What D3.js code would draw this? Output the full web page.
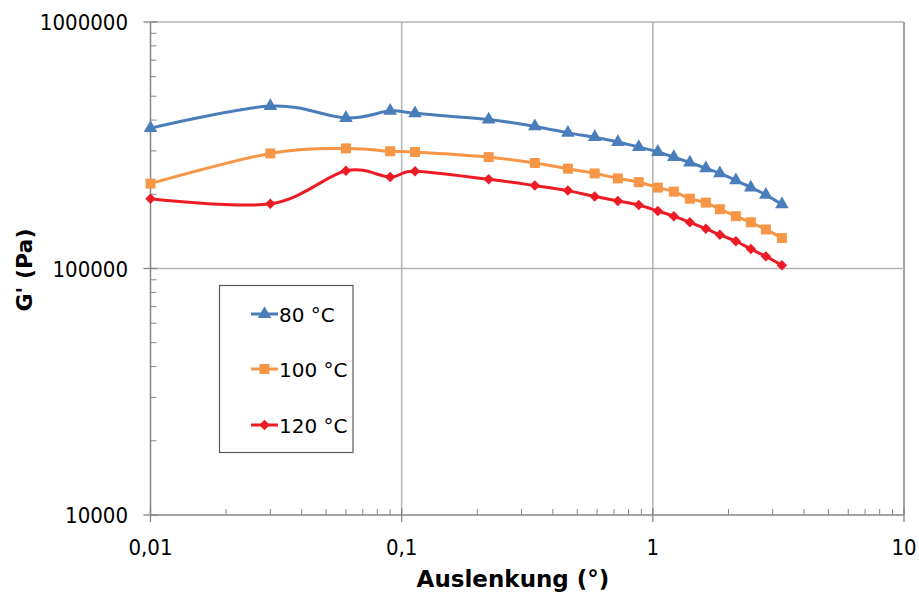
<!DOCTYPE html>
<html>
<head>
<meta charset="utf-8">
<script src="https://cdn.jsdelivr.net/npm/d3@7"></script>
<style>
  body { margin: 0; background: #fff; }
  svg { display: block; font-family: "DejaVu Sans Condensed", "DejaVu Sans", sans-serif; font-stretch: condensed; }
  .wide { font-family: "DejaVu Sans", sans-serif; font-stretch: normal; }
</style>
</head>
<body>
<svg id="chart" width="919" height="592"></svg>
<script>
// Auslenkung (°) for every measuring point
const strain = [0.01, 0.03, 0.06, 0.09, 0.113, 0.222, 0.339, 0.459, 0.587, 0.726,
  0.879, 1.047, 1.212, 1.404, 1.626, 1.849, 2.141, 2.455, 2.818, 3.265];

// G' (Pa)
const g80 = [371000, 456000, 408000, 436000, 426000, 402000, 377000, 355000, 341000, 326000,
  311000, 297000, 283000, 269000, 255000, 243000, 228000, 213000, 199000, 182000];
const g100 = [221000, 293000, 307000, 299000, 297000, 283000, 268000, 254000, 243000, 232000,
  224000, 213000, 205000, 192000, 185000, 174000, 163000, 154000, 144000, 133000];
const g120 = [192000, 183000, 249000, 235000, 248000, 230000, 217000, 207000, 196000, 188000,
  181000, 171000, 163000, 154000, 145000, 137000, 129000, 120000, 112000, 103000];

const seriesNames = ['80 °C', '100 °C', '120 °C'];
const xTicks = [0.01, 0.1, 1, 10];
const xTickLabels = ['0,01', '0,1', '1', '10'];
const yTicks = [10000, 100000, 1000000];

const series = [
  { name: seriesNames[0], values: g80, color: '#4a7ebb', marker: 'triangle' },
  { name: seriesNames[1], values: g100, color: '#f79646', marker: 'square' },
  { name: seriesNames[2], values: g120, color: '#ed1c24', marker: 'diamond' }
];

const svg = d3.select('#chart');
const x = d3.scaleLog().domain([0.01, 10]).range([150.5, 904]);
const y = d3.scaleLog().domain([10000, 1000000]).range([515, 22]);

const gridColor = '#b4b4b4';
const axisColor = '#868686';

// grid lines
svg.append('g').selectAll('line').data(xTicks.slice(1)).join('line')
  .attr('x1', d => x(d)).attr('x2', d => x(d))
  .attr('y1', y(1000000)).attr('y2', y(10000))
  .attr('stroke', d => d === 10 ? axisColor : gridColor).attr('stroke-width', 1.5);
svg.append('g').selectAll('line').data(yTicks.slice(1)).join('line')
  .attr('x1', x(0.01)).attr('x2', x(10))
  .attr('y1', d => y(d)).attr('y2', d => y(d))
  .attr('stroke', gridColor).attr('stroke-width', 1.5);

// minor ticks
const minorX = [];
[0.01, 0.1, 1].forEach(b => { for (let k = 2; k < 10; k++) minorX.push(b * k); });
const minorY = [];
[10000, 100000].forEach(b => { for (let k = 2; k < 10; k++) minorY.push(b * k); });

svg.append('g').selectAll('line').data(minorX).join('line')
  .attr('x1', d => x(d)).attr('x2', d => x(d))
  .attr('y1', y(10000)).attr('y2', y(10000) - 6)
  .attr('stroke', axisColor).attr('stroke-width', 1);
svg.append('g').selectAll('line').data(minorY).join('line')
  .attr('x1', x(0.01)).attr('x2', x(0.01) + 6)
  .attr('y1', d => y(d)).attr('y2', d => y(d))
  .attr('stroke', axisColor).attr('stroke-width', 1);

// major ticks
svg.append('g').selectAll('line').data(xTicks).join('line')
  .attr('x1', d => x(d)).attr('x2', d => x(d))
  .attr('y1', y(10000) - 7).attr('y2', y(10000) + 7)
  .attr('stroke', axisColor).attr('stroke-width', 1.3);
svg.append('g').selectAll('line').data(yTicks).join('line')
  .attr('x1', x(0.01) - 7).attr('x2', x(0.01) + 7)
  .attr('y1', d => y(d)).attr('y2', d => y(d))
  .attr('stroke', axisColor).attr('stroke-width', 1.3);

// axis lines
svg.append('line').attr('x1', x(0.01)).attr('x2', x(0.01))
  .attr('y1', y(1000000)).attr('y2', y(10000))
  .attr('stroke', axisColor).attr('stroke-width', 1.5);
svg.append('line').attr('x1', x(0.01)).attr('x2', x(10))
  .attr('y1', y(10000)).attr('y2', y(10000))
  .attr('stroke', axisColor).attr('stroke-width', 1.5);

// tick labels
svg.append('g').selectAll('text').data(xTicks).join('text')
  .attr('x', d => x(d)).attr('y', 555)
  .attr('text-anchor', 'middle')
  .style('font-size', '22px').style('fill', '#000')
  .text((d, i) => xTickLabels[i]);
svg.append('g').selectAll('text').data(yTicks).join('text')
  .attr('x', 128).attr('y', d => y(d) + 8)
  .attr('text-anchor', 'end')
  .style('font-size', '22px').style('fill', '#000')
  .text(d => d3.format('d')(d));

// axis titles
svg.append('text').attr('class', 'wide').attr('x', 513).attr('y', 587)
  .attr('text-anchor', 'middle')
  .style('font-size', '23px').style('font-weight', 'bold')
  .text('Auslenkung (°)');
svg.append('text').attr('class', 'wide')
  .attr('transform', 'translate(32,270) rotate(-90)')
  .attr('text-anchor', 'middle')
  .style('font-size', '22px').style('font-weight', 'bold')
  .text("G' (Pa)");

// series
const line = d3.line().curve(d3.curveCatmullRom.alpha(0))
  .x(d => x(d[0])).y(d => y(d[1]));

function markerPath(type) {
  if (type === 'triangle') return d3.symbol(d3.symbolTriangle, 80)();
  if (type === 'square') return d3.symbol(d3.symbolSquare, 100)();
  return d3.symbol(d3.symbolDiamond2 || d3.symbolDiamond, 70)();
}

series.forEach(s => {
  const pts = strain.map((v, i) => [v, s.values[i]]);
  const g = svg.append('g');
  g.append('path').attr('d', line(pts))
    .attr('fill', 'none').attr('stroke', s.color).attr('stroke-width', 3);
  g.selectAll('path.m').data(pts).join('path').attr('class', 'm')
    .attr('d', markerPath(s.marker))
    .attr('transform', d => `translate(${x(d[0])},${y(d[1])})`)
    .attr('fill', s.color);
});

// legend
const legend = svg.append('g');
legend.append('rect').attr('x', 219.5).attr('y', 285.5)
  .attr('width', 133.5).attr('height', 167)
  .attr('fill', '#fff').attr('stroke', '#5a5a5a').attr('stroke-width', 1.2);
const rowY = [314, 369, 425];
series.forEach((s, i) => {
  legend.append('line').attr('x1', 251).attr('x2', 278)
    .attr('y1', rowY[i]).attr('y2', rowY[i])
    .attr('stroke', s.color).attr('stroke-width', 3);
  legend.append('path').attr('d', markerPath(s.marker))
    .attr('transform', `translate(264.5,${rowY[i]})`)
    .attr('fill', s.color);
  legend.append('text').attr('class', 'wide').attr('x', 279).attr('y', rowY[i] + 8)
    .style('font-size', '20px').text(s.name);
});
</script>
</body>
</html>
